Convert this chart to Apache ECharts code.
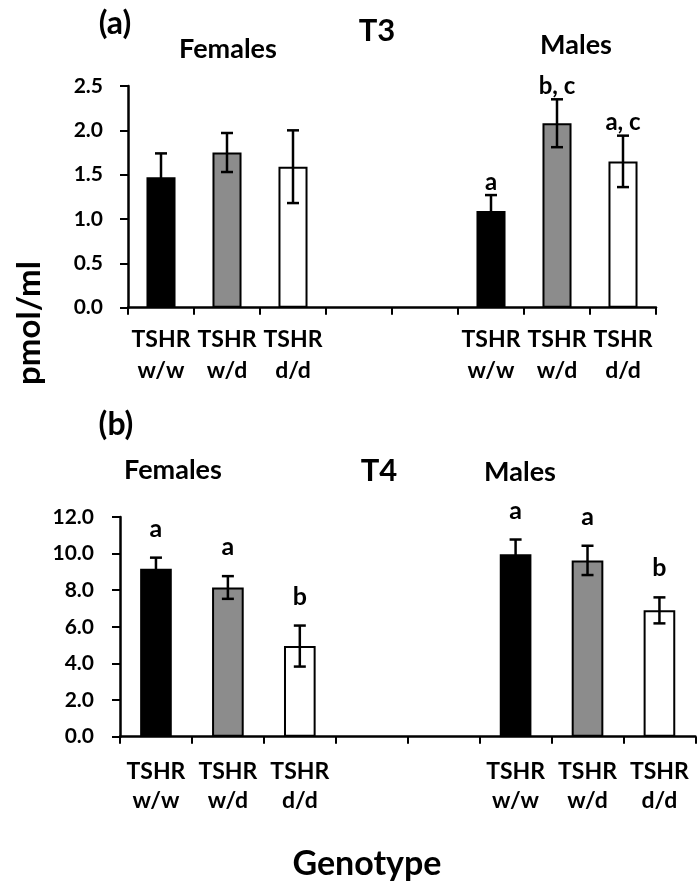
<!DOCTYPE html>
<html>
<head>
<meta charset="UTF-8">
<title>T3 / T4</title>
<script src="https://cdn.jsdelivr.net/npm/echarts@6/dist/echarts.min.js"></script>
<style>
  html, body { margin: 0; padding: 0; background: #fff; }
  #chart { width: 700px; height: 891px; }
</style>
</head>
<body>
<div id="chart"></div>
<script type="text/javascript">
// genotype of each x slot (two empty slots separate females and males)
var genotypes = ['w/w', 'w/d', 'd/d', null, null, 'w/w', 'w/d', 'd/d'];
var categories = genotypes.map(function (g) { return g ? 'TSHR\n' + g : ''; });

// T3 (pmol/ml)
var t3Mean = [1.47, 1.75, 1.59, null, null, 1.09, 2.08, 1.65];
var t3Err = [0.27, 0.22, 0.41, null, null, 0.18, 0.27, 0.29];
var t3Letters = ['', '', '', '', '', 'a', 'b, c', 'a, c'];
var t3Max = 2.5, t3Step = 0.5;

// T4 (pmol/ml)
var t4Mean = [9.18, 8.15, 4.95, null, null, 9.97, 9.63, 6.90];
var t4Err = [0.60, 0.62, 1.12, null, null, 0.80, 0.80, 0.71];
var t4Letters = ['a', 'a', 'b', '', '', 'a', 'a', 'b'];
var t4Max = 12, t4Step = 2;

var FONT = 'Lato, "Open Sans", sans-serif';
var fillFor = { 'w/w': '#000000', 'w/d': '#8c8c8c', 'd/d': '#ffffff' };

function barData(means) {
    return means.map(function (v, i) {
        if (v == null) return null;
        return { value: v, itemStyle: { color: fillFor[genotypes[i]] } };
    });
}

function errData(means, errs, letters) {
    var out = [];
    means.forEach(function (v, i) {
        if (v != null) out.push([i, v, errs[i], letters[i]]);
    });
    return out;
}

function errRender(letters, gap, fontSize) {
    return function (params, api) {
        var i = api.value(0), m = api.value(1), e = api.value(2);
        var top = api.coord([i, m + e]);
        var bot = api.coord([i, m - e]);
        var cap = 6;
        var ls = { stroke: '#000', lineWidth: 2.5 };
        return {
            type: 'group',
            children: [
                { type: 'line', shape: { x1: top[0], y1: top[1], x2: bot[0], y2: bot[1] }, style: ls },
                { type: 'line', shape: { x1: top[0] - cap, y1: top[1], x2: top[0] + cap, y2: top[1] }, style: ls },
                { type: 'line', shape: { x1: bot[0] - cap, y1: bot[1], x2: bot[0] + cap, y2: bot[1] }, style: ls },
                {
                    type: 'text',
                    style: {
                        text: letters[i], x: top[0], y: top[1] - gap,
                        textAlign: 'center', textVerticalAlign: 'middle',
                        font: 'bold ' + fontSize + 'px ' + FONT, fill: '#000'
                    }
                }
            ]
        };
    };
}

function xAxisFor(gridIndex, margin, lineHeight) {
    return {
        type: 'category',
        gridIndex: gridIndex,
        data: categories,
        axisLine: { lineStyle: { color: '#000', width: 2.5 } },
        axisTick: { show: true, length: 7, interval: 0, alignWithLabel: false, lineStyle: { color: '#000', width: 2 } },
        axisLabel: {
            interval: 0, margin: margin, color: '#000',
            fontFamily: FONT, fontWeight: 'bold', fontSize: 23, lineHeight: lineHeight
        },
        splitLine: { show: false }
    };
}

function yAxisFor(gridIndex, max, step, margin) {
    return {
        type: 'value',
        gridIndex: gridIndex,
        min: 0, max: max, interval: step,
        axisLine: { show: true, lineStyle: { color: '#000', width: 2.5 } },
        axisTick: { show: true, length: 8, lineStyle: { color: '#000', width: 2 } },
        axisLabel: {
            margin: margin, color: '#000', fontFamily: FONT, fontWeight: 'bold', fontSize: 21,
            formatter: function (v) { return v.toFixed(1); }
        },
        splitLine: { show: false }
    };
}

function txt(text, x, y, size, rot) {
    return {
        type: 'text', x: x, y: y, rotation: rot || 0,
        style: {
            text: text, textAlign: 'center', textVerticalAlign: 'middle',
            font: 'bold ' + size + 'px ' + FONT, fill: '#000'
        }
    };
}

var chart = echarts.init(document.getElementById('chart'));
chart.setOption({
    animation: false,
    backgroundColor: '#fff',
    grid: [
        { left: 128, right: 44, top: 86, bottom: 583.3 },
        { left: 120, right: 4.6, top: 517, bottom: 154.3 }
    ],
    xAxis: [xAxisFor(0, 16, 31), xAxisFor(1, 20, 29)],
    yAxis: [yAxisFor(0, t3Max, t3Step, 25), yAxisFor(1, t4Max, t4Step, 26)],
    graphic: [
        txt('(a)', 115, 24, 32),
        txt('T3', 377, 31, 31),
        txt('Females', 228, 49, 27),
        txt('Males', 576, 45, 27),
        txt('(b)', 116, 425, 32),
        txt('T4', 379, 471, 31),
        txt('Females', 173, 470, 27),
        txt('Males', 520, 472, 27),
        txt('pmol/ml', 29, 323, 33, Math.PI / 2),
        txt('Genotype', 367, 864, 34)
    ],
    series: [
        {
            type: 'bar', xAxisIndex: 0, yAxisIndex: 0, barWidth: '44%',
            data: barData(t3Mean),
            itemStyle: { borderColor: '#000', borderWidth: 2 }
        },
        {
            type: 'custom', xAxisIndex: 0, yAxisIndex: 0, z: 5,
            renderItem: errRender(t3Letters, 13, 24),
            data: errData(t3Mean, t3Err, t3Letters)
        },
        {
            type: 'bar', xAxisIndex: 1, yAxisIndex: 1, barWidth: '44%',
            data: barData(t4Mean),
            itemStyle: { borderColor: '#000', borderWidth: 2 }
        },
        {
            type: 'custom', xAxisIndex: 1, yAxisIndex: 1, z: 5,
            renderItem: errRender(t4Letters, 29, 25),
            data: errData(t4Mean, t4Err, t4Letters)
        }
    ]
});
</script>
</body>
</html>
